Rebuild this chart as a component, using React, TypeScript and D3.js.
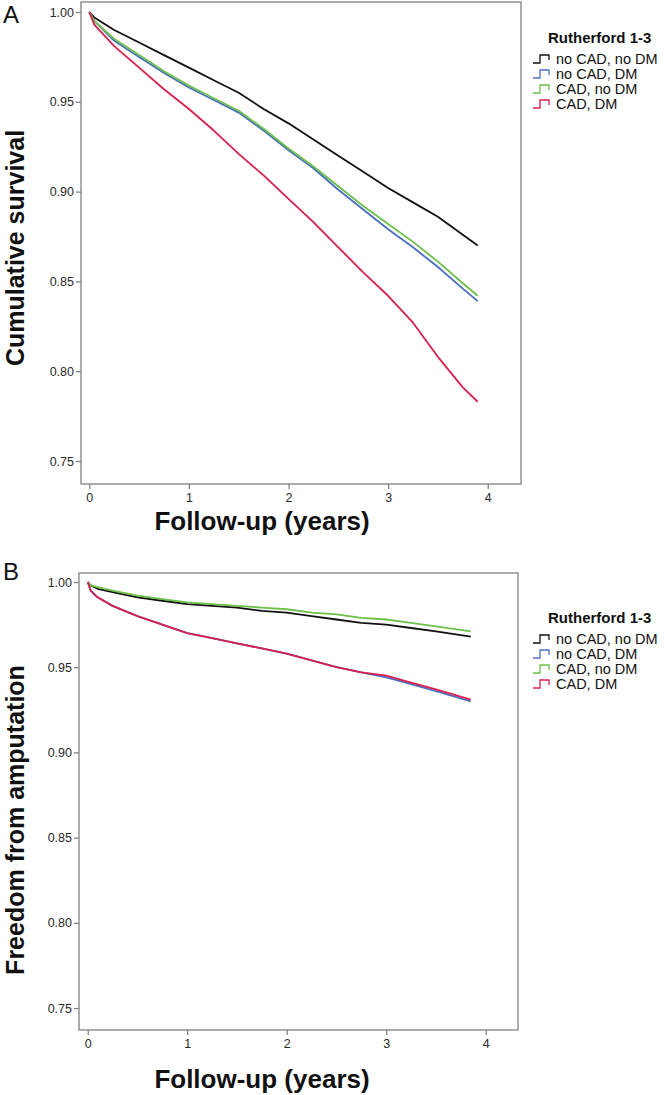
import * as React from 'react';
import { useRef, useEffect } from 'react';
import * as d3 from 'd3';

// series order as in the legend
const seriesNames = ['no CAD, no DM', 'no CAD, DM', 'CAD, no DM', 'CAD, DM'];
const seriesColors = ['#111111', '#4a6fc0', '#6cc04a', '#d81f4d'];
const legendTitle = 'Rutherford 1-3';
const xTicks = [0, 1, 2, 3, 4];
const yTicks = [0.75, 0.8, 0.85, 0.9, 0.95, 1.0];

// Panel A: cumulative survival
const survivalYears = [0, 0.05, 0.25, 0.5, 0.75, 1, 1.25, 1.5, 1.75, 2, 2.25, 2.5, 2.75, 3, 3.25, 3.5, 3.75, 3.9];
const survivalNoCadNoDm = [1.0, 0.997, 0.99, 0.983, 0.976, 0.969, 0.962, 0.955, 0.946, 0.938, 0.929, 0.92, 0.911, 0.902, 0.894, 0.886, 0.876, 0.87];
const survivalNoCadDm = [1.0, 0.995, 0.984, 0.975, 0.966, 0.958, 0.951, 0.944, 0.934, 0.923, 0.913, 0.901, 0.89, 0.879, 0.869, 0.858, 0.846, 0.839];
const survivalCadNoDm = [1.0, 0.995, 0.985, 0.976, 0.967, 0.959, 0.952, 0.945, 0.935, 0.924, 0.914, 0.903, 0.892, 0.882, 0.872, 0.861, 0.849, 0.842];
const survivalCadDm = [1.0, 0.993, 0.981, 0.969, 0.957, 0.946, 0.934, 0.921, 0.909, 0.896, 0.883, 0.869, 0.855, 0.842, 0.827, 0.808, 0.791, 0.783];

// Panel B: freedom from amputation
const amputationYears = [0, 0.03, 0.1, 0.25, 0.5, 0.75, 1, 1.25, 1.5, 1.75, 2, 2.25, 2.5, 2.75, 3, 3.25, 3.5, 3.85];
const amputationNoCadNoDm = [1.0, 0.998, 0.996, 0.994, 0.991, 0.989, 0.987, 0.986, 0.985, 0.983, 0.982, 0.98, 0.978, 0.976, 0.975, 0.973, 0.971, 0.968];
const amputationNoCadDm = [1.0, 0.995, 0.991, 0.986, 0.98, 0.975, 0.97, 0.967, 0.964, 0.961, 0.958, 0.954, 0.95, 0.947, 0.944, 0.94, 0.936, 0.93];
const amputationCadNoDm = [1.0, 0.998, 0.997, 0.995, 0.992, 0.99, 0.988, 0.987, 0.986, 0.985, 0.984, 0.982, 0.981, 0.979, 0.978, 0.976, 0.974, 0.971];
const amputationCadDm = [1.0, 0.995, 0.991, 0.986, 0.98, 0.975, 0.97, 0.967, 0.964, 0.961, 0.958, 0.954, 0.95, 0.947, 0.945, 0.941, 0.937, 0.931];

type Panel = {
  letter: string;
  yTitle: string;
  years: number[];
  series: number[][];
  frame: { left: number; right: number; top: number; bottom: number };
  xRange: [number, number];
  yRange: [number, number];
  letterY: number;
  yTitleCenter: number;
  xTitleY: number;
  legendTop: number;
};

const FONT = '"Liberation Sans", Arial, sans-serif';

const panels: Panel[] = [
  {
    letter: 'A',
    yTitle: 'Cumulative survival',
    years: survivalYears,
    series: [survivalNoCadNoDm, survivalNoCadDm, survivalCadNoDm, survivalCadDm],
    frame: { left: 81, right: 521, top: 2, bottom: 484 },
    xRange: [89.3, 487.7],
    yRange: [461, 12],
    letterY: 23,
    yTitleCenter: 248,
    xTitleY: 530,
    legendTop: 43,
  },
  {
    letter: 'B',
    yTitle: 'Freedom from amputation',
    years: amputationYears,
    series: [amputationNoCadNoDm, amputationNoCadDm, amputationCadNoDm, amputationCadDm],
    frame: { left: 79, right: 518, top: 573, bottom: 1030 },
    xRange: [87.7, 485.7],
    yRange: [1008, 582],
    letterY: 580,
    yTitleCenter: 820,
    xTitleY: 1088,
    legendTop: 623,
  },
];

function drawPanel(svg: d3.Selection<SVGSVGElement, unknown, null, undefined>, p: Panel) {
  const x = d3.scaleLinear().domain([0, 4]).range(p.xRange);
  const y = d3.scaleLinear().domain([0.75, 1.0]).range(p.yRange);
  const g = svg.append('g');
  const { left, right, top, bottom } = p.frame;

  g.append('rect')
    .attr('x', left)
    .attr('y', top)
    .attr('width', right - left)
    .attr('height', bottom - top)
    .attr('fill', 'none')
    .attr('stroke', '#8a8a8a')
    .attr('stroke-width', 1.4);

  const xAxis = g
    .append('g')
    .attr('transform', `translate(0,${bottom})`)
    .call(d3.axisBottom(x).tickValues(xTicks).tickFormat(d3.format('d')).tickSize(5).tickPadding(4));
  xAxis.select('.domain').remove();

  const yAxis = g
    .append('g')
    .attr('transform', `translate(${left},0)`)
    .call(d3.axisLeft(y).tickValues(yTicks).tickFormat(d3.format('.2f')).tickSize(5).tickPadding(2));
  yAxis.select('.domain').remove();

  g.selectAll('.tick line').attr('stroke', '#7a7a7a').attr('stroke-width', 1.2);
  g.selectAll('.tick text')
    .attr('font-family', FONT)
    .attr('font-size', 12.5)
    .attr('fill', '#2a2a2a');

  // curves
  const line = d3
    .line<[number, number]>()
    .x((d) => x(d[0]))
    .y((d) => y(d[1]))
    .curve(d3.curveLinear);

  p.series.forEach((vals, i) => {
    const pts = p.years.map((t, j) => [t, vals[j]] as [number, number]);
    g.append('path')
      .datum(pts)
      .attr('fill', 'none')
      .attr('stroke', seriesColors[i])
      .attr('stroke-width', 1.8)
      .attr('stroke-linejoin', 'round')
      .attr('d', line);
  });

  // titles
  svg.append('text')
    .attr('x', 3)
    .attr('y', p.letterY)
    .attr('font-family', FONT)
    .attr('font-size', 24)
    .attr('fill', '#111')
    .text(p.letter);

  svg.append('text')
    .attr('transform', `translate(24,${p.yTitleCenter}) rotate(-90)`)
    .attr('text-anchor', 'middle')
    .attr('font-family', FONT)
    .attr('font-size', 25)
    .attr('font-weight', 'bold')
    .attr('fill', '#111')
    .text(p.yTitle);

  svg.append('text')
    .attr('x', 262)
    .attr('y', p.xTitleY)
    .attr('text-anchor', 'middle')
    .attr('font-family', FONT)
    .attr('font-size', 26)
    .attr('font-weight', 'bold')
    .attr('fill', '#111')
    .text('Follow-up (years)');

  // legend
  const lg = svg.append('g');
  lg.append('text')
    .attr('x', 548)
    .attr('y', p.legendTop)
    .attr('font-family', FONT)
    .attr('font-size', 15)
    .attr('font-weight', 'bold')
    .attr('fill', '#111')
    .text(legendTitle);

  seriesNames.forEach((name, i) => {
    const cy = p.legendTop + 16 + i * 15;
    lg.append('path')
      .attr('d', `M533,${cy + 4}H540V${cy - 4}H549V${cy + 1}`)
      .attr('fill', 'none')
      .attr('stroke', seriesColors[i])
      .attr('stroke-width', 1.3);
    lg.append('text')
      .attr('x', 556)
      .attr('y', cy + 5)
      .attr('font-family', FONT)
      .attr('font-size', 14.5)
      .attr('fill', '#111')
      .text(name);
  });
}

export default function App() {
  const ref = useRef<SVGSVGElement>(null);

  useEffect(() => {
    if (!ref.current) return;
    const svg = d3.select(ref.current);
    svg.selectAll('*').remove();
    panels.forEach((p) => drawPanel(svg, p));
  }, []);

  return (
    <div style={{ position: 'absolute', left: 0, top: 0 }}>
      <svg ref={ref} width={669} height={1095} style={{ display: 'block', background: '#fff' }} />
    </div>
  );
}
